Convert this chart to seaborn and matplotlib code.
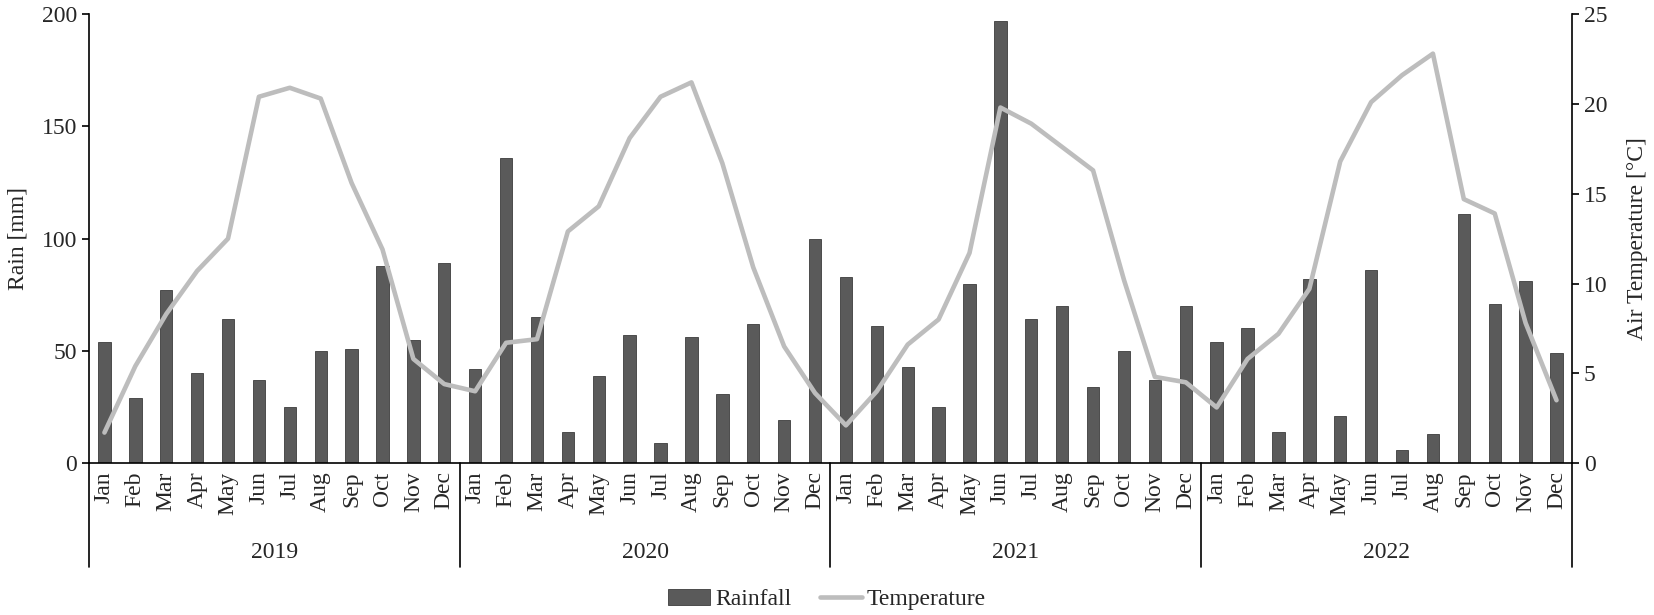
import pandas as pd
import matplotlib.pyplot as plt
import seaborn as sns

years = ['2019', '2020', '2021', '2022']
months = ['Jan', 'Feb', 'Mar', 'Apr', 'May', 'Jun',
          'Jul', 'Aug', 'Sep', 'Oct', 'Nov', 'Dec']

rain_2019 = [54, 29, 77, 40, 64, 37, 25, 50, 51, 88, 55, 89]
rain_2020 = [42, 136, 65, 14, 39, 57, 9, 56, 31, 62, 19, 100]
rain_2021 = [83, 61, 43, 25, 80, 197, 64, 70, 34, 50, 37, 70]
rain_2022 = [54, 60, 14, 82, 21, 86, 6, 13, 111, 71, 81, 49]

temp_2019 = [1.7, 5.4, 8.3, 10.7, 12.5, 20.4, 20.9, 20.3, 15.6, 11.9, 5.8, 4.4]
temp_2020 = [4.0, 6.7, 6.9, 12.9, 14.3, 18.1, 20.4, 21.2, 16.7, 10.9, 6.5, 3.9]
temp_2021 = [2.1, 4.0, 6.6, 8.0, 11.7, 19.8, 18.9, 17.6, 16.3, 10.2, 4.8, 4.5]
temp_2022 = [3.1, 5.8, 7.2, 9.7, 16.8, 20.1, 21.6, 22.8, 14.7, 13.9, 7.8, 3.5]

rain = rain_2019 + rain_2020 + rain_2021 + rain_2022
temp = temp_2019 + temp_2020 + temp_2021 + temp_2022

df = pd.DataFrame({'idx': range(48), 'month': months * 4,
                   'rain': rain, 'temp': temp})

sns.set_style('white')
plt.rcParams['font.family'] = ['Liberation Serif', 'DejaVu Serif']

fig, ax = plt.subplots(figsize=(16.54, 6.15), dpi=100)
fig.subplots_adjust(left=0.0538, right=0.9504, top=0.977, bottom=0.247)

sns.barplot(data=df, x='idx', y='rain', color='#5a5a5a', width=0.4,
            saturation=1, edgecolor='#3c3c3c', linewidth=0.6, ax=ax)

ax2 = ax.twinx()
sns.lineplot(data=df, x='idx', y='temp', color='#bdbdbd', lw=3.3,
             ax=ax2, legend=False, solid_capstyle='round')

ax.set_xlim(-0.5, 47.5)
ax.set_ylim(0, 200)
ax.set_yticks(range(0, 201, 50))
ax2.set_ylim(0, 25)
ax2.set_yticks(range(0, 26, 5))

ax.set_xticks(range(48))
ax.set_xticklabels(months * 4, rotation=90)
ax.set_xlabel('')
ax2.set_xlabel('')

ax.tick_params(axis='x', length=0, pad=6, labelsize=17)
ax.tick_params(axis='y', direction='out', length=5, width=1.2,
               color='black', labelsize=17, left=True)
ax2.tick_params(axis='y', direction='out', length=5, width=1.2,
                color='black', labelsize=17, right=True)

ax.set_ylabel('Rain [mm]', fontsize=17)
ax.yaxis.set_label_coords(-0.041, 0.5)
ax2.set_ylabel('Air Temperature [°C]', fontsize=17)
ax2.yaxis.set_label_coords(1.037, 0.5)

for s in ['top', 'right']:
    ax.spines[s].set_visible(False)
for s in ['top', 'bottom', 'left']:
    ax2.spines[s].set_visible(False)
for a, s in [(ax, 'left'), (ax, 'bottom'), (ax2, 'right')]:
    a.spines[s].set_color('black')
    a.spines[s].set_linewidth(1.2)

# year group separators and labels below the month labels
trans = ax.get_xaxis_transform()
for b in [-0.5, 11.5, 23.5, 35.5, 47.5]:
    ax.plot([b, b], [0, -0.232], transform=trans, color='black',
            lw=1.2, clip_on=False)
for i, y in enumerate(years):
    ax.text(12 * i + 5.5, -0.2, y, transform=trans, ha='center',
            va='center', fontsize=17)

fig.legend([ax.containers[0], ax2.get_lines()[0]], ['Rainfall', 'Temperature'],
           loc='center', bbox_to_anchor=(0.5, 0.025), ncol=2, frameon=False,
           fontsize=17, handlelength=1.8, handletextpad=0.2, columnspacing=1.2)

fig.savefig('out.png', dpi=100)
